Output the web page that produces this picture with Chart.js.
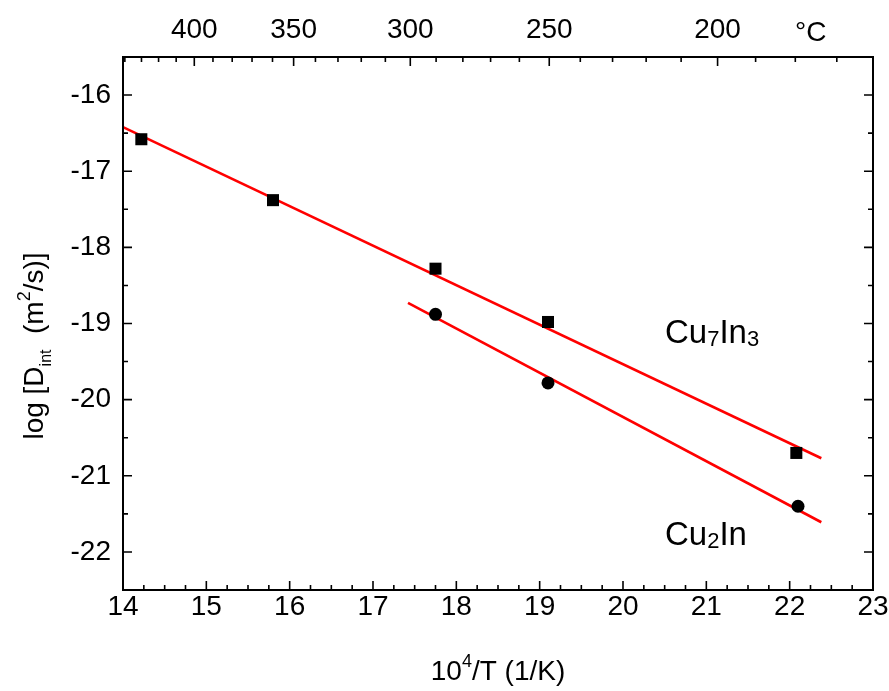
<!DOCTYPE html>
<html>
<head>
<meta charset="utf-8">
<script src="https://cdn.jsdelivr.net/npm/chart.js@4.4.1/dist/chart.umd.min.js"></script>
<style>
  body { margin: 0; background: #fff; }
</style>
</head>
<body>
<canvas id="arrhenius" width="889" height="691"></canvas>
<script>
const cu7In3X = [14.22, 15.8, 17.75, 19.1, 22.08];
const cu7In3Y = [-16.58, -17.38, -18.28, -18.98, -20.7];
const cu2InX = [17.75, 19.1, 22.1];
const cu2InY = [-18.88, -19.78, -21.4];

// fitted lines (end points)
const fit7X = [14, 22.38];
const fit7Y = [-16.42, -20.77];
const fit2X = [17.42, 22.38];
const fit2Y = [-18.73, -21.61];

const yTicks = [-22, -21, -20, -19, -18, -17, -16];
const celsiusMajor = [400, 350, 300, 250, 200];
const celsiusMinor = [440, 430, 420, 410, 390, 380, 370, 360, 340, 330, 320, 310,
                      290, 280, 270, 260, 240, 230, 220, 210, 190, 180, 170];

const FONT = "'Liberation Sans', Arial, sans-serif";
const toPts = (xs, ys) => xs.map((x, i) => ({ x: x, y: ys[i] }));
const invT = c => 1e4 / (c + 273.15);

// rich text: segments of {t, s (size), dy}
function segWidth(ctx, segs) {
    let w = 0;
    segs.forEach(g => { ctx.font = g.s + 'px ' + FONT; w += ctx.measureText(g.t).width; });
    return w;
}
function drawSegs(ctx, segs, x, y) {
    let cx = x;
    segs.forEach(g => {
        ctx.font = g.s + 'px ' + FONT;
        ctx.fillText(g.t, cx, y + (g.dy || 0));
        cx += ctx.measureText(g.t).width;
    });
}
const centerText = (ctx, segs, x, y) => drawSegs(ctx, segs, x - segWidth(ctx, segs) / 2, y);

const framePlugin = {
    id: 'frame',
    afterDraw(chart) {
        const ctx = chart.ctx;
        const a = chart.chartArea;
        const sx = chart.scales.x, sy = chart.scales.y;
        ctx.save();
        ctx.strokeStyle = '#000';
        ctx.lineWidth = 2;
        ctx.strokeRect(a.left, a.top, a.right - a.left, a.bottom - a.top);

        ctx.lineWidth = 1.6;
        ctx.beginPath();
        // bottom axis: major every 1, minor every 0.25
        for (let v = 14; v <= 23.001; v += 0.25) {
            const px = sx.getPixelForValue(v);
            const len = Math.abs(v - Math.round(v)) < 1e-6 ? 9 : 5;
            ctx.moveTo(px, a.bottom); ctx.lineTo(px, a.bottom - len);
        }
        // left / right: major every 1, minor every 0.5
        for (let v = -22.5; v <= -15.5; v += 0.5) {
            const py = sy.getPixelForValue(v);
            const len = Number.isInteger(v) ? 9 : 5;
            ctx.moveTo(a.left, py); ctx.lineTo(a.left + len, py);
            ctx.moveTo(a.right, py); ctx.lineTo(a.right - len, py);
        }
        // top axis in degrees C
        celsiusMajor.forEach(c => {
            const px = sx.getPixelForValue(invT(c));
            ctx.moveTo(px, a.top); ctx.lineTo(px, a.top + 9);
        });
        celsiusMinor.forEach(c => {
            const px = sx.getPixelForValue(invT(c));
            if (px < a.left || px > a.right) return;
            ctx.moveTo(px, a.top); ctx.lineTo(px, a.top + 5);
        });
        ctx.stroke();

        ctx.fillStyle = '#000';
        ctx.textBaseline = 'alphabetic';
        // x title
        centerText(ctx, [
            { t: '10', s: 28 }, { t: '4', s: 18, dy: -13 }, { t: '/T (1/K)', s: 28 }
        ], (a.left + a.right) / 2, 680);
        // y title
        ctx.save();
        ctx.translate(43, 346);
        ctx.rotate(-Math.PI / 2);
        centerText(ctx, [
            { t: 'log [D', s: 28 }, { t: 'int', s: 16, dy: 8 }, { t: '  (m', s: 28 },
            { t: '2', s: 18, dy: -13 }, { t: '/s)]', s: 28 }
        ], 0, 0);
        ctx.restore();
        // degree label
        ctx.font = '28px ' + FONT;
        ctx.fillText('°C', 795, 41);
        // compound labels
        drawSegs(ctx, [
            { t: 'Cu', s: 33 }, { t: '7', s: 22, dy: 3 }, { t: 'In', s: 33 }, { t: '3', s: 22, dy: 3 }
        ], 665, 343);
        drawSegs(ctx, [
            { t: 'Cu', s: 33 }, { t: '2', s: 22, dy: 3 }, { t: 'In', s: 33 }
        ], 665, 545);
        ctx.restore();
    }
};

const tickFont = { family: FONT, size: 28 };

new Chart(document.getElementById('arrhenius'), {
    type: 'scatter',
    data: {
        datasets: [
            { label: 'Cu7In3 fit', data: toPts(fit7X, fit7Y), showLine: true, borderColor: '#ff0000',
              borderWidth: 2.6, pointRadius: 0, order: 2 },
            { label: 'Cu2In fit', data: toPts(fit2X, fit2Y), showLine: true, borderColor: '#ff0000',
              borderWidth: 2.6, pointRadius: 0, order: 2 },
            { label: 'Cu7In3', data: toPts(cu7In3X, cu7In3Y), pointStyle: 'rect', pointRadius: 8.5,
              backgroundColor: '#000', borderColor: '#000', borderWidth: 0, order: 1 },
            { label: 'Cu2In', data: toPts(cu2InX, cu2InY), pointStyle: 'circle', pointRadius: 6.5,
              backgroundColor: '#000', borderColor: '#000', borderWidth: 0, order: 1 }
        ]
    },
    options: {
        responsive: false,
        animation: false,
        devicePixelRatio: 1,
        layout: { padding: { right: 16 } },
        plugins: { legend: { display: false }, tooltip: { enabled: false } },
        scales: {
            x: {
                type: 'linear', position: 'bottom', min: 14, max: 23,
                grid: { display: false, drawTicks: false }, border: { display: false },
                ticks: { stepSize: 1, font: tickFont, color: '#000', padding: 0, maxRotation: 0, autoSkip: false },
                afterFit: s => { s.height = 101; }
            },
            x2: {
                type: 'linear', position: 'top', min: 14, max: 23,
                grid: { display: false, drawTicks: false }, border: { display: false },
                afterBuildTicks: s => { s.ticks = celsiusMajor.map(c => ({ value: invT(c) })); },
                ticks: { font: tickFont, color: '#000', padding: 10, maxRotation: 0, autoSkip: false,
                         callback: v => Math.round(1e4 / v - 273.15) },
                afterFit: s => { s.height = 57; }
            },
            y: {
                type: 'linear', min: -22.5, max: -15.5,
                grid: { display: false, drawTicks: false }, border: { display: false },
                afterBuildTicks: s => { s.ticks = yTicks.map(v => ({ value: v })); },
                ticks: { font: tickFont, color: '#000', padding: 12, autoSkip: false },
                afterFit: s => { s.width = 123; }
            }
        }
    },
    plugins: [framePlugin]
});
</script>
</body>
</html>
